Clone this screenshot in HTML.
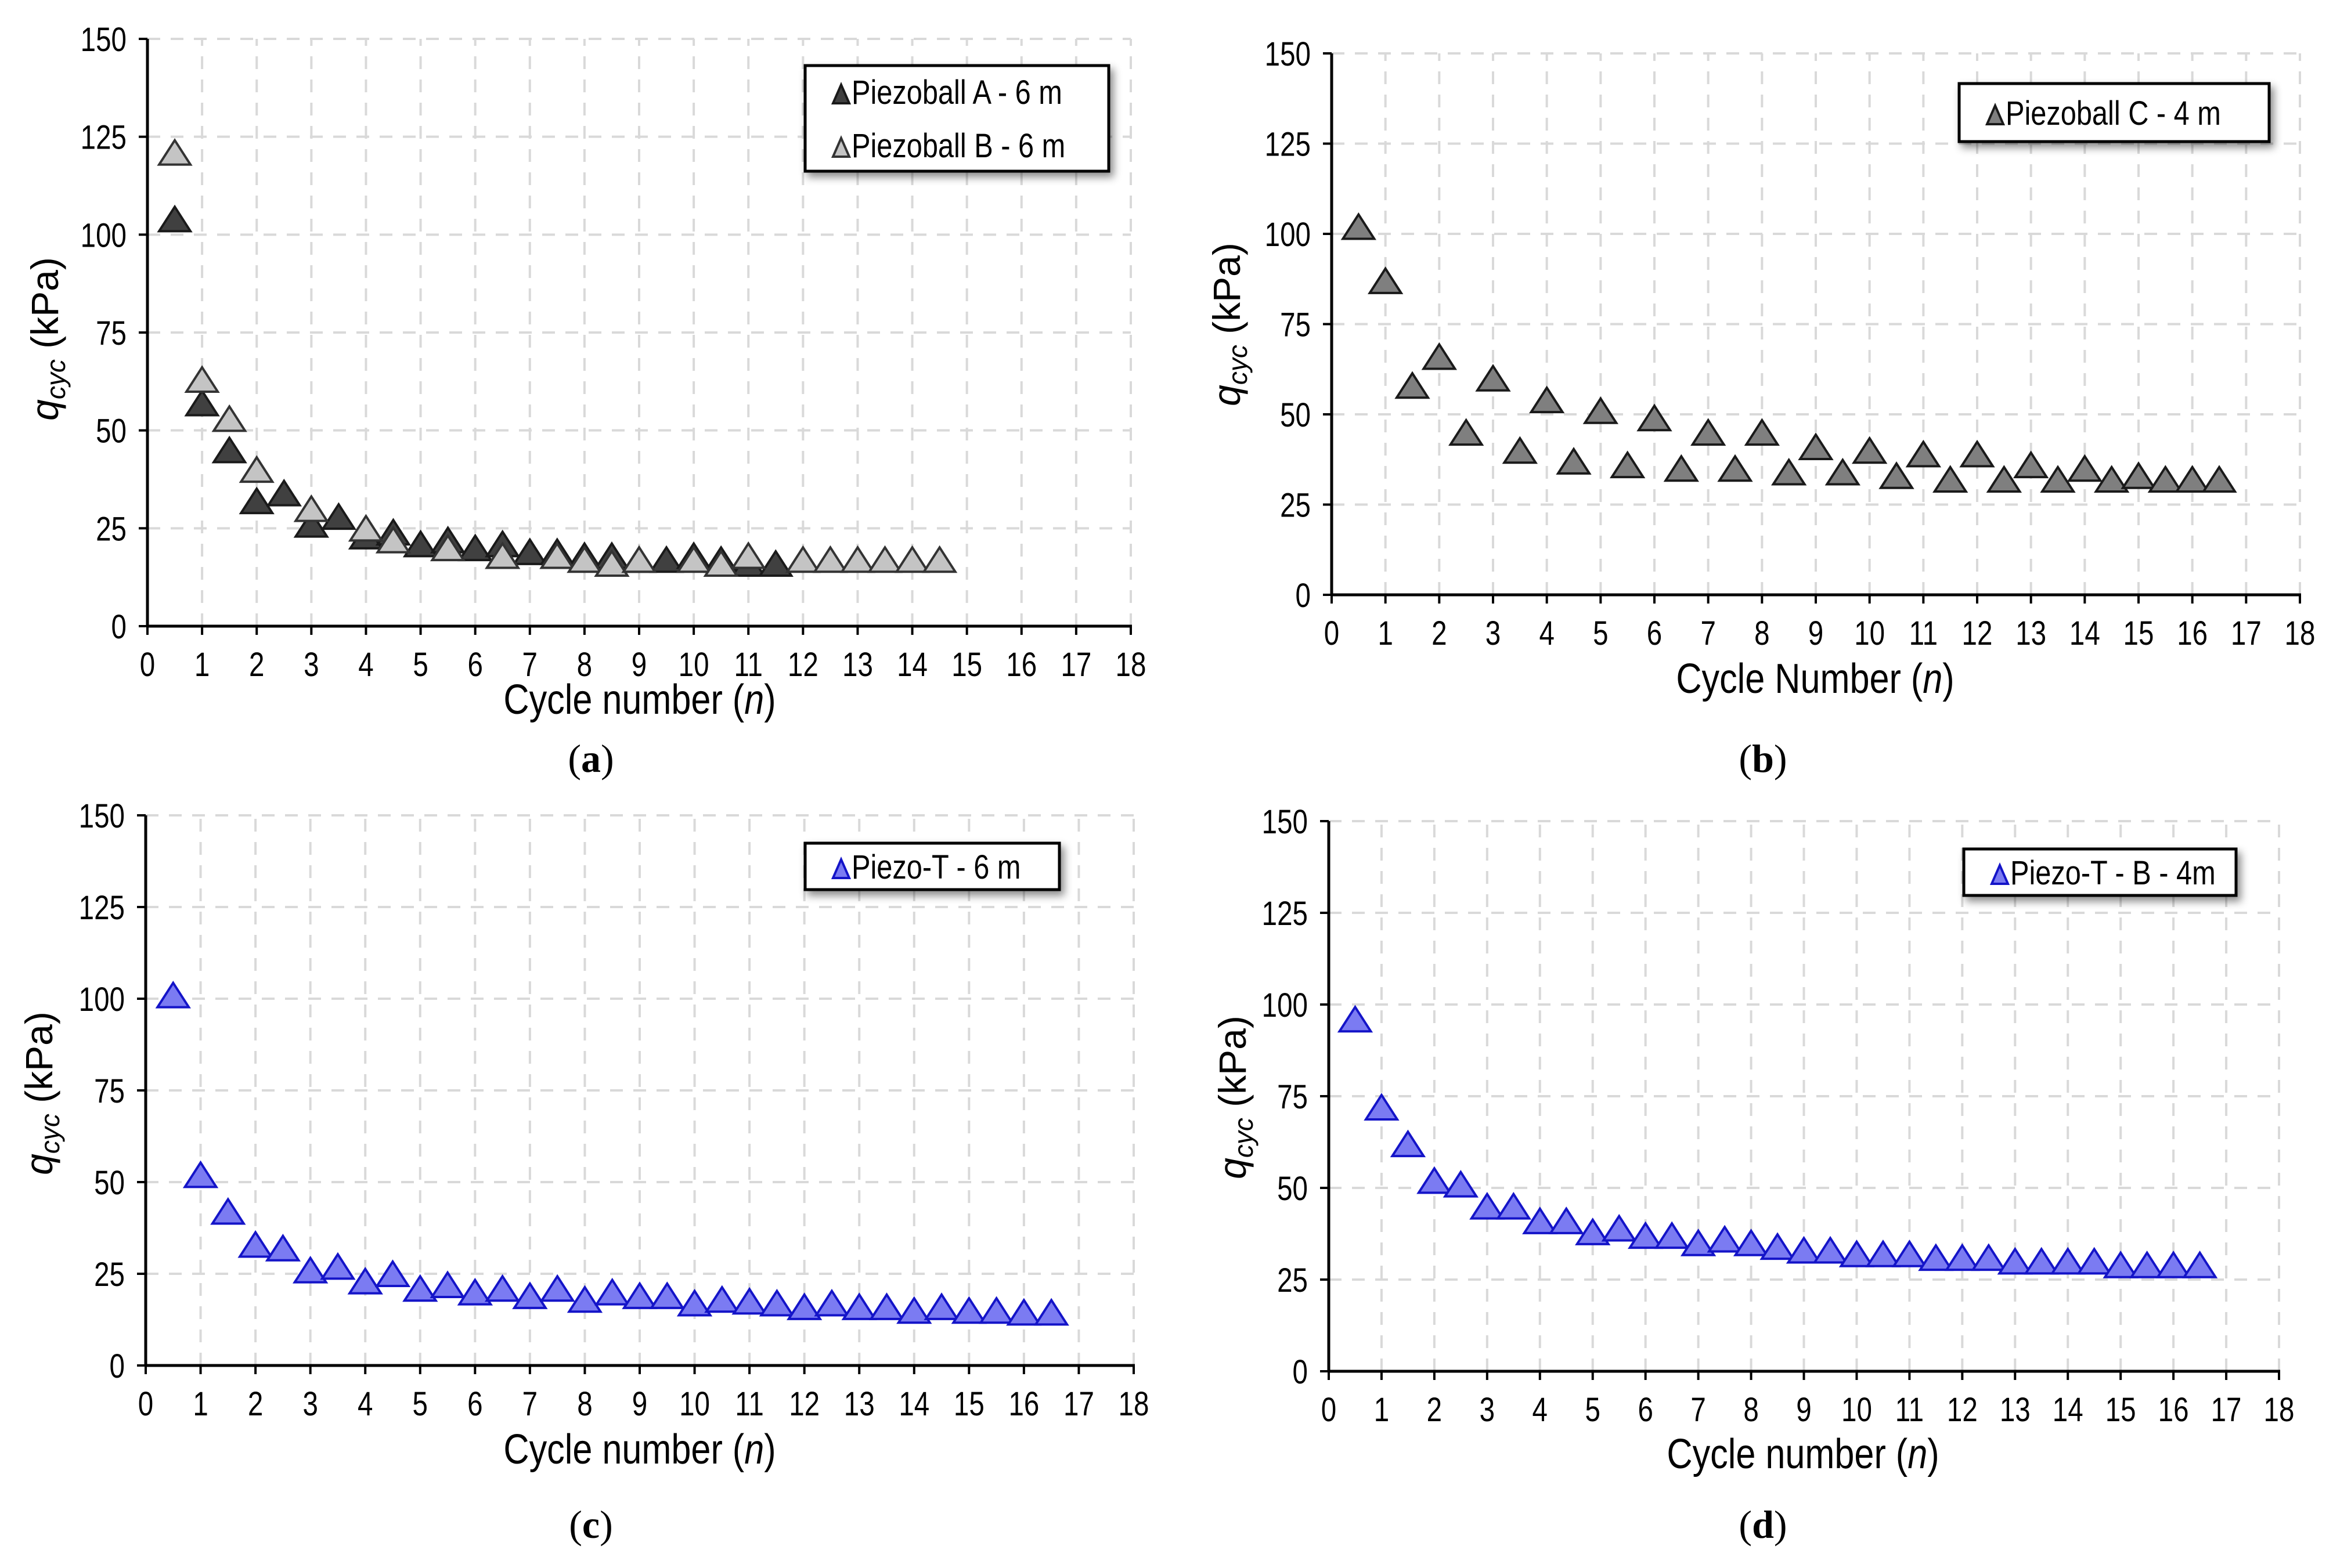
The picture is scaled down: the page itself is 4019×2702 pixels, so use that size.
<!DOCTYPE html>
<html><head><meta charset="utf-8"><style>
html,body{margin:0;padding:0;background:#fff;}
svg{display:block;}
text{font-family:"Liberation Sans",sans-serif;}
text.serif{font-family:"Liberation Serif",serif;}
</style></head><body>
<svg id="fig" width="4019" height="2702" viewBox="0 0 4019 2702" xmlns="http://www.w3.org/2000/svg">
<defs>
<filter id="sh" x="-10%" y="-20%" width="130%" height="150%"><feDropShadow dx="6" dy="8" stdDeviation="7" flood-color="#000" flood-opacity="0.45"/></filter>
</defs>
</svg>
<script>
const xTicks=[0,1,2,3,4,5,6,7,8,9,10,11,12,13,14,15,16,17,18];
const yTicks=[0,25,50,75,100,125,150];
const aXA=[0.5,1,1.5,2,2.5,3,3.5,4,4.5,5,5.5,6,6.5,7,7.5,8,8.5,9,9.5,10,10.5,11,11.5];
const aYA=[104,57,45,32,34,26,28,23,24,21,22,20,21,19,19,18,18,17,17,18,17,16,16];
const aXB=[0.5,1,1.5,2,3,4,4.5,5.5,6.5,7.5,8,8.5,9,10,10.5,11,12,12.5,13,13.5,14,14.5];
const aYB=[121,63,53,40,30,25,22,20,18,18,17,16,17,17,16,18,17,17,17,17,17,17];
const bX=[0.5,1,1.5,2,2.5,3,3.5,4,4.5,5,5.5,6,6.5,7,7.5,8,8.5,9,9.5,10,10.5,11,11.5,12,12.5,13,13.5,14,14.5,15,15.5,16,16.5];
const bY=[102,87,58,66,45,60,40,54,37,51,36,49,35,45,35,45,34,41,34,40,33,39,32,39,32,36,32,35,32,33,32,32,32];
const cX=bX;
const cY=[101,52,42,33,32,26,27,23,25,21,22,20,21,19,21,18,20,19,19,17,18,17.5,17,16,17,16,16,15,16,15,15,14.5,14.5];
const dX=bX;
const dY=[96,72,62,52,51,45,45,41,41,38,39,37,37,35,36,35,34,33,33,32,32,32,31,31,31,30,30,30,30,29,29,29,29];

const NS="http://www.w3.org/2000/svg";
const svg=document.getElementById('fig');
function el(tag,attrs,parent){const e=document.createElementNS(NS,tag);for(const k in attrs)e.setAttribute(k,attrs[k]);(parent||svg).appendChild(e);return e;}
function txt(parent,x,y,size,anchor,sx,extra){
  const a={x:0,y:0,'font-size':size,'text-anchor':anchor,fill:'#000',transform:`translate(${x},${y}) ${extra||''} scale(${sx},1)`};
  return el('text',a,parent);
}
function tri(g,cx,cy,w,h,fill,stroke){
  return el('polygon',{points:`${cx-w/2},${cy+h/2} ${cx+w/2},${cy+h/2} ${cx},${cy-h/2}`,fill:fill,stroke:stroke,'stroke-width':4,'stroke-linejoin':'miter'},g);
}
function panel(P){
  const g=el('g',{});
  
  
  const sx=v=>P.x0+(P.x1-P.x0)*v/18;
  const sy=v=>P.y0-(P.y0-P.y1)*v/150;
  xTicks.forEach(t=>{ if(t>0){const l=el('line',{x1:sx(t),x2:sx(t),y1:P.y0,y2:P.y1,stroke:'#d9d9d9','stroke-width':4,'stroke-dasharray':'22,18'},g);
    }});
  yTicks.forEach(t=>{ if(t>0){const l=el('line',{x1:P.x0,x2:P.x1,y1:sy(t),y2:sy(t),stroke:'#d9d9d9','stroke-width':4,'stroke-dasharray':'22,18'},g);
    }});
  const ax=el('line',{x1:P.x0,x2:P.x1+2,y1:P.y0,y2:P.y0,stroke:'#000','stroke-width':5},g);
  
  const ay=el('line',{x1:P.x0,x2:P.x0,y1:P.y0+2,y2:P.y1,stroke:'#000','stroke-width':5},g);
  
  xTicks.forEach(t=>{
    el('line',{x1:sx(t),x2:sx(t),y1:P.y0,y2:P.y0+15,stroke:'#000','stroke-width':4},g);
    const tx=txt(g,sx(t),P.y0+86,58,'middle',0.82);
    tx.textContent=t;
    
  });
  yTicks.forEach(t=>{
    el('line',{x1:P.x0-15,x2:P.x0,y1:sy(t),y2:sy(t),stroke:'#000','stroke-width':4},g);
    const tx=txt(g,P.x0-36,sy(t)+21,58,'end',0.82);
    tx.textContent=t;
    
  });
  P.series.forEach(s=>{
    s.xs.forEach((x,i)=>{
      const t=tri(g,sx(x),sy(s.ys[i]),54,42,s.fill,s.stroke);
      
      
    });
  });
  const xt=txt(g,P.xtx,P.xty,72,'middle',0.85);
  
  xt.innerHTML=P.xtitle+' (<tspan font-style="italic">n</tspan>)';
  const yt=el('text',{x:0,y:0,'font-size':66,'text-anchor':'middle',fill:'#000',transform:`translate(${P.ytx},${P.yty}) rotate(-90)`},g);
  
  yt.innerHTML='<tspan font-style="italic">q</tspan><tspan font-style="italic" font-size="46" dy="12">cyc</tspan><tspan dy="-12"> (kPa)</tspan>';
  const lg=el('g',{},g);
  
  el('rect',{x:P.lg[0],y:P.lg[1],width:P.lg[2],height:P.lg[3],fill:'#fff',stroke:'#000','stroke-width':5,filter:'url(#sh)'},lg);
  P.series.forEach((s,i)=>{
    const cy=P.lg[1]+P.lg[3]/2+(i-(P.series.length-1)/2)*92;
    const lx=P.lg[0]+62;
    tri(lg,lx,cy+4,28,32,s.fill,s.stroke);
    const t=txt(lg,lx+18,cy+21,58,'start',0.84);
    t.textContent=s.label;
    
  });
  const cap=el('text',{x:P.capx,y:P.capy,'font-size':68,'text-anchor':'middle',fill:'#000','class':'serif'},g);
  cap.innerHTML='(<tspan font-weight="bold">'+P.id+'</tspan>)';
  
}
const blueF='#7b7bf2',blueS='#1414c8';
panel({id:'a',x0:254,x1:1948,y0:1079,y1:67,xtitle:'Cycle number',xtx:1102,xty:1230,ytx:100,yty:584,
  lg:[1387,113,523,182],capx:1018,capy:1330,
  series:[{key:'piezoball-a',xs:aXA,ys:aYA,fill:'#404040',stroke:'#1a1a1a',label:'Piezoball A - 6 m'},
          {key:'piezoball-b',xs:aXB,ys:aYB,fill:'#c4c4c4',stroke:'#333',label:'Piezoball B - 6 m'}]});
panel({id:'b',x0:2294,x1:3962,y0:1025,y1:92,xtitle:'Cycle Number',xtx:3127,xty:1194,ytx:2136,yty:559,
  lg:[3375,144,534,100],capx:3037,capy:1330,
  series:[{key:'piezoball-c',xs:bX,ys:bY,fill:'#7f7f7f',stroke:'#1a1a1a',label:'Piezoball C - 4 m'}]});
panel({id:'c',x0:251,x1:1953,y0:2353,y1:1405,xtitle:'Cycle number',xtx:1102,xty:2522,ytx:90,yty:1884,
  lg:[1387,1453,438,80],capx:1018,capy:2650,
  series:[{key:'piezo-t',xs:cX,ys:cY,fill:blueF,stroke:blueS,label:'Piezo-T - 6 m'}]});
panel({id:'d',x0:2289,x1:3926,y0:2363,y1:1415,xtitle:'Cycle number',xtx:3106,xty:2530,ytx:2146,yty:1891,
  lg:[3383,1463,469,80],capx:3037,capy:2650,
  series:[{key:'piezo-t-b',xs:dX,ys:dY,fill:blueF,stroke:blueS,label:'Piezo-T - B - 4m'}]});
</script>
</body></html>
